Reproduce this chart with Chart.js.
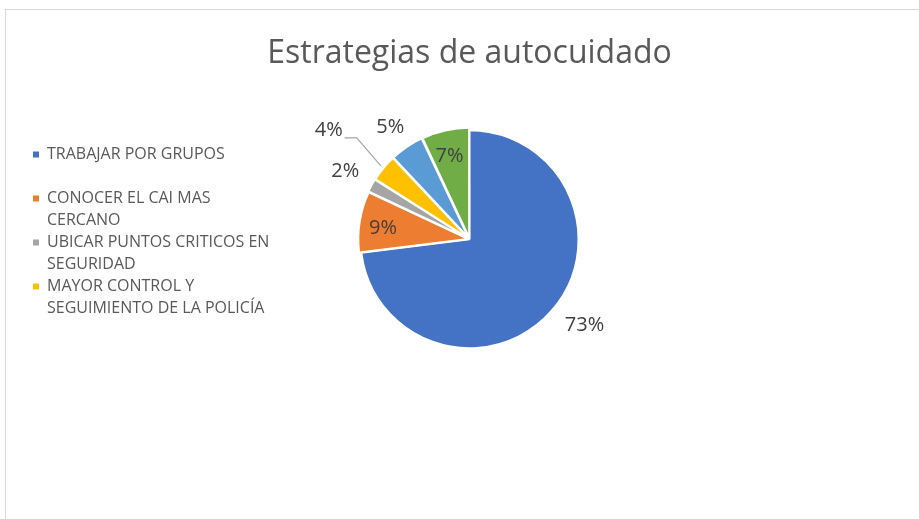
<!DOCTYPE html>
<html>
<head>
<meta charset="utf-8">
<script src="https://cdn.jsdelivr.net/npm/chart.js@4"></script>
<style>
  html, body { margin: 0; padding: 0; background: #fff; overflow: hidden; }
  #frame { position: absolute; left: 5px; top: 9px; width: 1000px; height: 1000px; border: 1px solid #d9d9d9; }
  #wrap { position: absolute; left: 0; top: 0; width: 939px; height: 519px; }
</style>
</head>
<body>
<div id="frame"></div>
<div id="wrap"><canvas id="myChart"></canvas></div>
<script>
var categories = [
  ['TRABAJAR POR GRUPOS', ''],
  ['CONOCER EL CAI MAS', 'CERCANO'],
  ['UBICAR PUNTOS CRITICOS EN', 'SEGURIDAD'],
  ['MAYOR CONTROL Y', 'SEGUIMIENTO DE LA POLICÍA'],
  [''],
  ['']
];
var values = [73, 9, 2, 4, 5, 7];
var colors = ['#4472C4', '#ED7D31', '#A5A5A5', '#FFC000', '#5B9BD5', '#70AD47'];
var explode = [0, 6, 6, 6, 6, 6];
// where each % label sits: distance (times radius) and angle nudge (deg)
var labelDist = [1.32, 0.8, 1.3, 1.63, 1.26, 0.78];
var labelTurn = [-4.5, -2, 0, -2, -1, -1];

var pctLabels = {
  id: 'pctLabels',
  afterDatasetsDraw: function(chart) {
    var ctx = chart.ctx;
    var arcs = chart.getDatasetMeta(0).data;
    ctx.save();
    ctx.font = '20px "Open Sans"';
    ctx.fillStyle = '#404040';
    ctx.textAlign = 'center';
    ctx.textBaseline = 'middle';
    arcs.forEach(function(arc, i) {
      var p = arc.getProps(['x', 'y', 'startAngle', 'endAngle', 'outerRadius']);
      var mid = (p.startAngle + p.endAngle) / 2;
      var a = mid + labelTurn[i] * Math.PI / 180;
      var d = p.outerRadius * labelDist[i];
      var lx = p.x + Math.cos(a) * d;
      var ly = p.y + Math.sin(a) * d;
      var txt = values[i] + '%';
      ctx.fillText(txt, lx, ly);
      if (labelDist[i] > 1.5) {
        var w = ctx.measureText(txt).width;
        var ex = p.x + Math.cos(mid) * (p.outerRadius + explode[i]);
        var ey = p.y + Math.sin(mid) * (p.outerRadius + explode[i]);
        ctx.beginPath();
        ctx.strokeStyle = '#a6a6a6';
        ctx.lineWidth = 1.2;
        ctx.moveTo(lx + w / 2 + 2, ly + 7);
        ctx.lineTo(lx + w / 2 + 14, ly + 7);
        ctx.lineTo(ex, ey);
        ctx.stroke();
      }
    });
    ctx.restore();
  }
};

var ctx = document.getElementById('myChart').getContext('2d');
var myChart = new Chart(ctx, {
  type: 'pie',
  data: {
    labels: categories,
    datasets: [{
      data: values,
      backgroundColor: colors,
      borderColor: '#ffffff',
      borderWidth: 2,
      offset: explode,
      radius: 109
    }]
  },
  options: {
    responsive: true,
    maintainAspectRatio: false,
    animation: false,
    layout: { padding: { left: 33, right: 33, bottom: 120, top: 0 } },
    plugins: {
      tooltip: { enabled: false },
      title: {
        display: true,
        text: 'Estrategias de autocuidado',
        color: '#595959',
        font: { family: '"Open Sans"', size: 32, weight: 'normal' },
        padding: { top: 35, bottom: 6 }
      },
      legend: {
        position: 'chartArea',
        align: 'start',
        title: { display: true, text: '', padding: { top: 132, bottom: 0 } },
        labels: {
          color: '#595959',
          font: { family: '"Open Sans"', size: 16, lineHeight: '22px' },
          boxWidth: 6,
          boxHeight: 6,
          padding: 0,
          generateLabels: function(chart) {
            return categories.slice(0, 4).map(function(c, i) {
              return { text: c, fillStyle: colors[i], strokeStyle: colors[i], lineWidth: 0, hidden: false, index: i, fontColor: '#595959' };
            });
          }
        }
      }
    }
  },
  plugins: [pctLabels]
});
</script>
</body>
</html>
